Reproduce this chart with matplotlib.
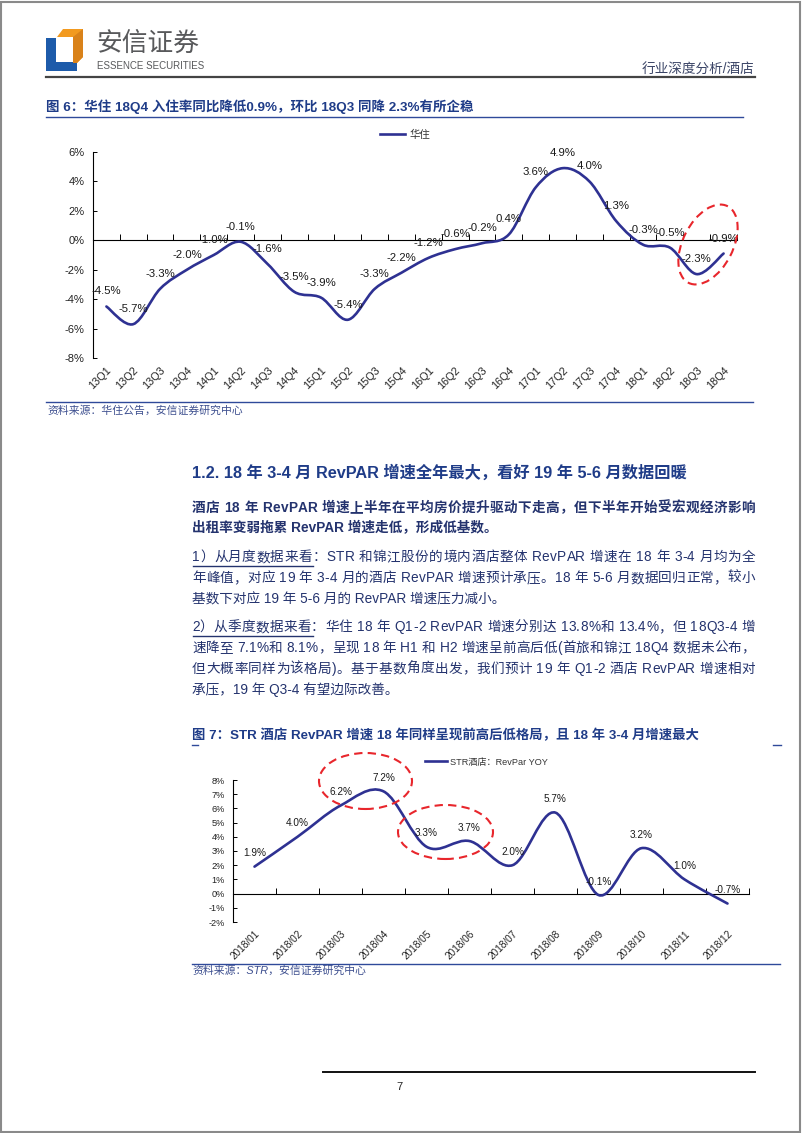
import numpy as np
import matplotlib
matplotlib.use("Agg")
import matplotlib.pyplot as plt
from matplotlib.path import Path
from matplotlib.patches import PathPatch, Ellipse, Polygon, Rectangle
from matplotlib.lines import Line2D
from matplotlib.font_manager import FontProperties

FAMILY = ['Liberation Sans', 'Noto Sans CJK SC', 'DejaVu Sans']
plt.rcParams['font.family'] = FAMILY

# chart data
quarters = ['13Q1', '13Q2', '13Q3', '13Q4', '14Q1', '14Q2', '14Q3', '14Q4',
            '15Q1', '15Q2', '15Q3', '15Q4', '16Q1', '16Q2', '16Q3', '16Q4',
            '17Q1', '17Q2', '17Q3', '17Q4', '18Q1', '18Q2', '18Q3', '18Q4']
huazhu_occ = [-4.5, -5.7, -3.3, -2.0, -1.0, -0.1, -1.6, -3.5,
              -3.9, -5.4, -3.3, -2.2, -1.2, -0.6, -0.2, 0.4,
              3.6, 4.9, 4.0, 1.3, -0.3, -0.5, -2.3, -0.9]

months = ['2018/01', '2018/02', '2018/03', '2018/04', '2018/05', '2018/06',
          '2018/07', '2018/08', '2018/09', '2018/10', '2018/11', '2018/12']
str_revpar = [1.9, 4.0, 6.2, 7.2, 3.3, 3.7, 2.0, 5.7, -0.1, 3.2, 1.0, -0.7]

W, H = 802, 1133
NAVY = '#1F3C88'
TEXT = '#24336e'
LINE = '#2E3192'

fig = plt.figure(figsize=(W / 100, H / 100), dpi=100)
renderer = fig.canvas.get_renderer()


def fx(x):
    return x / W


def fy(y):
    return 1 - y / H


def ftext(x, y, s, **kw):
    kw.setdefault('va', 'center')
    return fig.text(fx(x), fy(y), s, **kw)


def hline(x0, x1, y, color, lw):
    fig.add_artist(Line2D([fx(x0), fx(x1)], [fy(y), fy(y)], color=color, lw=lw))


def text_width(s, prop):
    w, h, d = renderer.get_text_width_height_descent(s, prop, ismath=False)
    return w


def justified(x0, x1, y, s, size, weight='normal', color=TEXT):
    # spread characters so the line fills x0..x1 like the typeset page
    prop = FontProperties(family=FAMILY, size=size, weight=weight)
    bar = text_width('|', prop)
    total = text_width(s, prop)
    gap = (x1 - x0 - total) / (len(s) - 1)
    for k, ch in enumerate(s):
        if ch == ' ':
            continue
        pos = 0 if k == 0 else text_width(s[:k] + '|', prop) - bar
        ftext(x0 + pos + k * gap, y, ch, fontsize=size, fontweight=weight, color=color)


def smooth_path(xs, ys):
    # excel style smoothed line as bezier segments
    pts = np.column_stack([xs, ys]).astype(float)
    n = len(pts)
    verts = [pts[0]]
    codes = [Path.MOVETO]
    for i in range(n - 1):
        p0 = pts[max(i - 1, 0)]
        p1 = pts[i]
        p2 = pts[i + 1]
        p3 = pts[min(i + 2, n - 1)]
        verts += [p1 + (p2 - p0) / 6, p2 - (p3 - p1) / 6, p2]
        codes += [Path.CURVE4] * 3
    return Path(verts, codes)


def ellipse(cx, cy, w, h, angle=0):
    e = Ellipse((cx / 100, (H - cy) / 100), w / 100, h / 100, angle=angle,
                transform=fig.dpi_scale_trans, fill=False, edgecolor='#E8262C',
                lw=1.5, linestyle=(0, (4, 2.5)), zorder=10)
    fig.add_artist(e)


def line_chart(box, cats, vals, ylim, ystep, label, ytick_fs, xtick_fs, lab_fs,
               lab_off, legend_xy, legend_fs):
    left, top, right, bottom = box
    ax = fig.add_axes([fx(left), fy(bottom), (right - left) / W, (bottom - top) / H])
    n = len(cats)
    ax.set_xlim(-0.5, n - 0.5)
    ax.set_ylim(*ylim)
    ax.add_patch(PathPatch(smooth_path(np.arange(n), vals), fill=False,
                           edgecolor=LINE, lw=1.9, capstyle='round', zorder=3))
    for i, v in enumerate(vals):
        ax.annotate('%.1f%%' % v, (i, v), xytext=(0, lab_off),
                    textcoords='offset points', ha='center', va='center',
                    fontsize=lab_fs, color='#1a1a1a', zorder=4)
    for s in ['top', 'right']:
        ax.spines[s].set_visible(False)
    ax.spines['bottom'].set_position(('data', 0))
    ax.spines['left'].set_linewidth(0.8)
    ax.spines['bottom'].set_linewidth(0.8)
    ax.set_xticks(np.arange(0.5, n, 1))
    ax.set_xticklabels([])
    ax.tick_params(axis='x', direction='in', length=4, width=0.7)
    yt = np.arange(ylim[0], ylim[1] + ystep / 2, ystep)
    ax.set_yticks(yt)
    ax.set_yticklabels(['%d%%' % t for t in yt], fontsize=ytick_fs, color='#222222')
    ax.tick_params(axis='y', direction='in', length=3, width=0.7, pad=6)
    sec = ax.secondary_xaxis(0.0)
    sec.set_xticks(np.arange(n))
    sec.set_xticklabels(cats, rotation=45, ha='right', rotation_mode='anchor',
                        fontsize=xtick_fs, color='#222222')
    sec.tick_params(length=0, pad=5)
    sec.spines['bottom'].set_visible(False)
    ax.legend(handles=[Line2D([], [], color=LINE, lw=1.9)], labels=[label],
              loc='center left', bbox_to_anchor=(fx(legend_xy[0]), fy(legend_xy[1])),
              bbox_transform=fig.transFigure, frameon=False, fontsize=legend_fs,
              handlelength=2.4, handletextpad=0.4, borderpad=0, labelcolor='#333333')
    return ax


# page border
fig.add_artist(Rectangle((0.001, 0.001), 0.997, 0.997, transform=fig.transFigure,
                         fill=False, edgecolor='#8a8a8a', lw=1.5))

# logo
fig.add_artist(Polygon([(fx(46), fy(38)), (fx(56), fy(38)), (fx(56), fy(62)),
                        (fx(77), fy(62)), (fx(77), fy(71)), (fx(46), fy(71))],
                       closed=True, transform=fig.transFigure, color='#1D5BAA', lw=0))
fig.add_artist(Polygon([(fx(57), fy(37)), (fx(63), fy(29)), (fx(83), fy(29)),
                        (fx(83), fy(57)), (fx(77), fy(63)), (fx(73), fy(63)),
                        (fx(73), fy(37))],
                       closed=True, transform=fig.transFigure, color='#F29A1F', lw=0))
fig.add_artist(Polygon([(fx(73), fy(37)), (fx(83), fy(29)), (fx(83), fy(57)),
                        (fx(77), fy(63)), (fx(73), fy(63))],
                       closed=True, transform=fig.transFigure, color='#D9821A', lw=0))
ftext(96, 44, '安信证券', fontsize=18.5, color='#58595B', family=['Noto Sans CJK SC'])
ftext(97, 66, 'ESSENCE SECURITIES', fontsize=7.0, color='#58595B')
ftext(754, 70, '行业深度分析/酒店', fontsize=9.8, color='#3A4466', ha='right')
hline(46, 755, 77, '#444444', 1.6)

# figure 6
ftext(46, 107, '图 6：华住 18Q4 入住率同比降低0.9%，环比 18Q3 同降 2.3%有所企稳',
      fontsize=9.7, color=NAVY, fontweight='bold')
hline(46, 743, 117, '#2F4A9A', 1.0)

line_chart((93, 152, 737, 358), quarters, huazhu_occ, (-8, 6), 2, '华住',
           8.0, 7.8, 8.2, 10.8, (375, 135), 7.5)
ellipse(708, 244.5, 50, 86, angle=-27)

hline(46, 753, 402, '#2F4A9A', 1.0)
ftext(47, 411, '资料来源：华住公告，安信证券研究中心', fontsize=7.8, color='#3D4F8F',
      style='italic')

# text block
ftext(192, 473, '1.2. 18 年 3-4 月 RevPAR 增速全年最大，看好 19 年 5-6 月数据回暖',
      fontsize=11.7, color=NAVY, fontweight='bold')

bold_lines = ['酒店 18 年 RevPAR 增速上半年在平均房价提升驱动下走高，但下半年开始受宏观经济影响',
              '出租率变弱拖累 RevPAR 增速走低，形成低基数。']
justified(192, 755, 508, bold_lines[0], 9.8, 'bold')
ftext(192, 528, bold_lines[1], fontsize=9.8, color=TEXT, fontweight='bold')

para1 = ['1）从月度数据来看：STR 和锦江股份的境内酒店整体 RevPAR 增速在 18 年 3-4 月均为全',
         '年峰值，对应 19 年 3-4 月的酒店 RevPAR 增速预计承压。18 年 5-6 月数据回归正常，较小',
         '基数下对应 19 年 5-6 月的 RevPAR 增速压力减小。']
for k, s in enumerate(para1):
    y = 557 + 21.2 * k
    if k < len(para1) - 1:
        justified(192, 755, y, s, 9.8)
    else:
        ftext(192, y, s, fontsize=9.8, color=TEXT)
hline(193, 313, 566, TEXT, 1.0)

para2 = ['2）从季度数据来看：华住 18 年 Q1-2 RevPAR 增速分别达 13.8%和 13.4%，但 18Q3-4 增',
         '速降至 7.1%和 8.1%，呈现 18 年 H1 和 H2 增速呈前高后低(首旅和锦江 18Q4 数据未公布，',
         '但大概率同样为该格局)。基于基数角度出发，我们预计 19 年 Q1-2 酒店 RevPAR 增速相对',
         '承压，19 年 Q3-4 有望边际改善。']
for k, s in enumerate(para2):
    y = 627 + 20.8 * k
    if k < len(para2) - 1:
        justified(192, 755, y, s, 9.8)
    else:
        ftext(192, y, s, fontsize=9.8, color=TEXT)
hline(193, 313, 636, TEXT, 1.0)

# figure 7
ftext(192, 735, '图 7：STR 酒店 RevPAR 增速 18 年同样呈现前高后低格局，且 18 年 3-4 月增速最大',
      fontsize=9.6, color=NAVY, fontweight='bold')
hline(192, 198, 745, '#2F4A9A', 1.0)
hline(773, 781, 745, '#2F4A9A', 1.0)

line_chart((233, 780, 749, 922), months, str_revpar, (-2, 8), 1, 'STR酒店：RevPar YOY',
           6.6, 7.2, 7.2, 9.7, (420, 762), 6.6)
ellipse(365.5, 781, 93, 56)
ellipse(445.5, 832, 95, 54)

hline(192, 780, 964, '#2F4A9A', 1.0)
ftext(192, 971, '资料来源：STR，安信证券研究中心', fontsize=7.8, color='#3D4F8F',
      style='italic')

# footer
hline(323, 755, 1072, '#111111', 1.4)
ftext(399, 1087, '7', fontsize=8, color='#222222', ha='center')

fig.savefig('out.png', dpi=100)
